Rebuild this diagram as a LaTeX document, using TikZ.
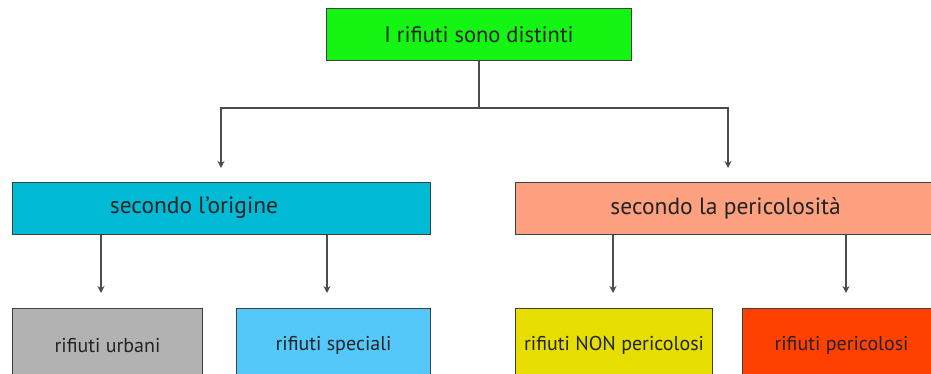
\documentclass[tikz,border=0pt]{standalone}
\usepackage{fontspec}
\setmainfont{PT Sans}
\usetikzlibrary{arrows.meta}
\definecolor{topgreen}{RGB}{20,245,20}
\definecolor{origcyan}{RGB}{0,186,214}
\definecolor{perisalmon}{RGB}{252,160,128}
\definecolor{urbgray}{RGB}{178,178,178}
\definecolor{specblue}{RGB}{85,200,250}
\definecolor{nonyellow}{RGB}{230,222,0}
\definecolor{perired}{RGB}{255,64,0}
\definecolor{inkgray}{RGB}{35,35,35}
\tikzset{
  box/.style={draw=black!75,line width=1.1pt,inner sep=0pt,anchor=north west,text=inkgray},
  toptxt/.style={font=\fontsize{22.5}{26}\selectfont},
  midtxt/.style={font=\fontsize{23.5}{27}\selectfont},
  smalltxt/.style={font=\fontsize{20}{23}\selectfont},
  link/.style={draw=black!70,line width=1.2pt},
  arr/.style={link,-{Stealth[length=7pt,width=7pt]}}
}
\begin{document}
\begin{tikzpicture}[x=1pt,y=-1pt]
\useasboundingbox (0,0) rectangle (931,374);
\clip (0,0) rectangle (931,374);

% top
\node[box,toptxt,fill=topgreen,minimum width=305,minimum height=52] (top) at (326,8) {I rifiuti sono distinti};

% middle row
\node[box,fill=origcyan,minimum width=418,minimum height=52] (orig) at (12,182) {};
\node[midtxt,text=inkgray] (origtxt) at (194,208) {secondo l’origine};
\node[box,midtxt,fill=perisalmon,minimum width=420,minimum height=52] (peri) at (515,182) {secondo la pericolosità};

% bottom row
\node[box,smalltxt,fill=urbgray,minimum width=190,minimum height=74] (urb) at (12,308) {rifiuti urbani};
\node[box,smalltxt,fill=specblue,minimum width=194,minimum height=74] (spec) at (236,308) {rifiuti speciali};
\node[box,smalltxt,fill=nonyellow,minimum width=197,minimum height=74] (nonp) at (515,308) {rifiuti NON pericolosi};
\node[box,smalltxt,fill=perired,minimum width=198,minimum height=74] (perip) at (742,308) {rifiuti pericolosi};

% connectors
\coordinate (fork) at (top.south |- 0,108);
\coordinate (ltip) at (221,168);
\coordinate (rtip) at (728,168);
\draw[link] (top.south) -- (fork);
\draw[arr] (fork) -| (ltip);
\draw[arr] (fork) -| (rtip);

\coordinate (a1) at (101,293);
\coordinate (a2) at (327,293);
\coordinate (a3) at (613,293);
\coordinate (a4) at (846,293);
\draw[arr] (orig.south -| a1) -- (a1);
\draw[arr] (orig.south -| a2) -- (a2);
\draw[arr] (peri.south -| a3) -- (a3);
\draw[arr] (peri.south -| a4) -- (a4);
\end{tikzpicture}
\end{document}
